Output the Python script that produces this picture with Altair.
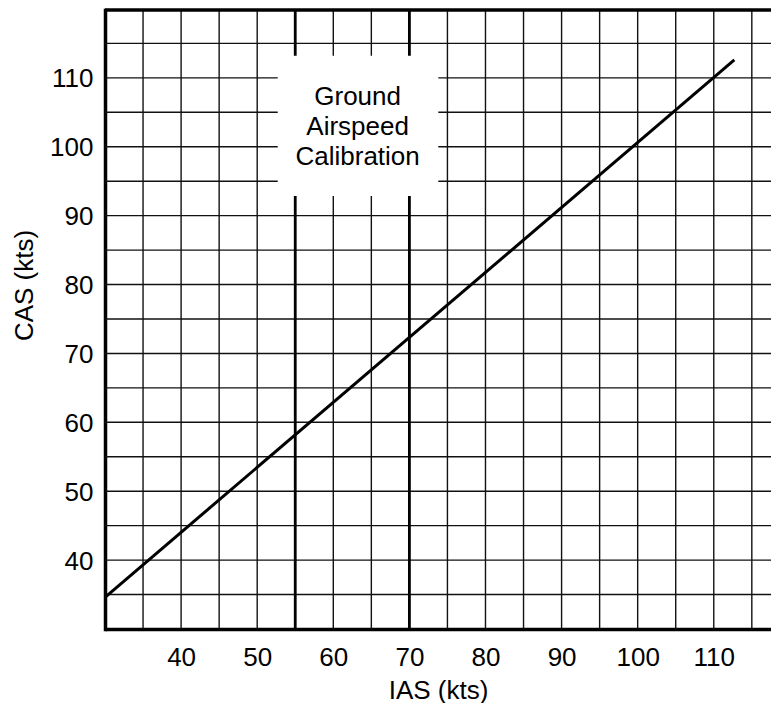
import altair as alt
import pandas as pd

# Calibration line (IAS -> CAS)
ias = [30.0, 112.7]
cas = [34.6, 112.6]

# Grid / tick values
x_grid = [35, 40, 45, 50, 55, 60, 65, 70, 75, 80, 85, 90, 95, 100, 105, 110, 115]
y_grid = [35, 40, 45, 50, 55, 60, 65, 70, 75, 80, 85, 90, 95, 100, 105, 110, 115]
x_labels = [40, 50, 60, 70, 80, 90, 100, 110]
y_labels = [40, 50, 60, 70, 80, 90, 100, 110]
bold_verticals = [55, 70]

# Annotation
note_lines = ["Ground", "Airspeed", "Calibration"]
note_box_x = [52.7, 73.8]
note_box_y = [92.85, 113.2]
note_at = [63.2, 107.2]

X_DOMAIN = [30, 117.52]
Y_DOMAIN = [30, 119.85]
W, H = 666, 619
FONT = "Liberation Sans"
XT = "IAS (kts)"
YT = "CAS (kts)"

xs = alt.Scale(domain=X_DOMAIN, nice=False, zero=False)
ys = alt.Scale(domain=Y_DOMAIN, nice=False, zero=False)

x_axis = alt.Axis(
    values=x_labels, grid=False, ticks=False, tickSize=0,
    labelPadding=15, labelFlush=False, labelOverlap=False, labelBound=False,
    title=XT, titleY=69, titleBaseline="alphabetic", domainCap="butt",
)
y_axis = alt.Axis(
    values=y_labels, grid=False, ticks=False, tickSize=0,
    labelPadding=12, labelOffset=1, labelFlush=False, labelOverlap=False, labelBound=False,
    title=YT, titleX=-73, titleY=275, titleBaseline="alphabetic", titleAlign="center",
    domainCap="square",
)


def X(field):
    return alt.X(field, scale=xs, axis=x_axis, title=XT)


def Y(field):
    return alt.Y(field, scale=ys, axis=y_axis, title=YT)


vgrid = alt.Chart(pd.DataFrame({"gx": x_grid})).mark_rule(color="#111111", strokeWidth=1.4).encode(
    x=X("gx:Q")
)
hgrid = alt.Chart(pd.DataFrame({"gy": y_grid})).mark_rule(color="#111111", strokeWidth=1.4).encode(
    y=Y("gy:Q")
)
bold = alt.Chart(pd.DataFrame({"v": bold_verticals})).mark_rule(color="black", strokeWidth=2.8).encode(
    x=X("v:Q")
)

box_df = pd.DataFrame({"x1": [note_box_x[0]], "x2": [note_box_x[1]], "y1": [note_box_y[0]], "y2": [note_box_y[1]]})
box = alt.Chart(box_df).mark_rect(color="white", opacity=1).encode(
    x=X("x1:Q"), x2="x2:Q", y=Y("y1:Q"), y2="y2:Q",
)

line_df = pd.DataFrame({"ias": ias, "cas": cas})
line = alt.Chart(line_df).mark_line(color="black", strokeWidth=3, strokeCap="butt").encode(
    x=X("ias:Q"), y=Y("cas:Q"),
)

text_df = pd.DataFrame({"x": [note_at[0]], "y": [note_at[1]]})
note = alt.Chart(text_df).mark_text(
    text=note_lines, font=FONT, fontSize=26, lineHeight=30, align="center", baseline="middle", color="black"
).encode(x=X("x:Q"), y=Y("y:Q"))

top_border = alt.Chart(pd.DataFrame({"d": [0]})).mark_rule(color="black", strokeWidth=3.5, strokeCap="butt").encode(
    x=alt.value(0), x2=alt.value(W), y=alt.value(0)
)

chart = (
    alt.layer(vgrid, hgrid, bold, box, line, note, top_border)
    .properties(
        width=W, height=H,
        autosize=alt.AutoSizeParams(type="none"),
        padding={"left": 97, "top": 2, "right": 0, "bottom": 74},
    )
    .configure_view(stroke=None)
    .configure_axis(
        labelFont=FONT, titleFont=FONT, labelFontSize=26, titleFontSize=26,
        labelColor="black", titleColor="black", titleFontWeight="normal",
        domainColor="black", domainWidth=3.5,
    )
)

chart.save("out.html", embed_options={"renderer": "svg", "actions": False})
